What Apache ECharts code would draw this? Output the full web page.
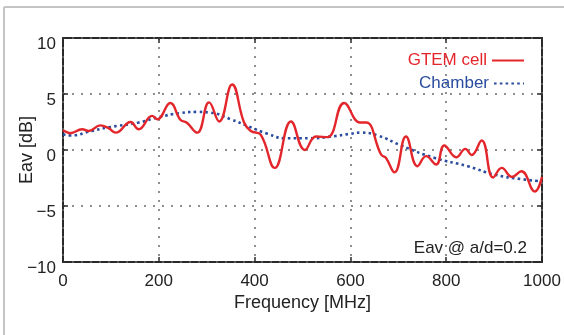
<!DOCTYPE html>
<html>
<head>
<meta charset="utf-8">
<script src="https://cdn.jsdelivr.net/npm/echarts@6/dist/echarts.min.js"></script>
<style>html,body{margin:0;padding:0;background:#fff}#c{width:564px;height:335px}</style>
</head>
<body>
<div id="c"></div>
<script>
var gtemFreq = [0,8,15,40,54,78,95,110,141,158,186,197,224,245,258,280,305,326,353,378,392,413,442,476,505,528,552,587,620,633,664,674,692,716,740,758,779,796,821,840,853,874,898,916,937,957,985,1000];
var gtemDb   = [1.75,1.6,1.5,1.85,1.7,2.2,1.95,1.55,2.5,1.85,3.05,2.75,4.2,2.7,2.45,1.55,4.25,2.55,5.85,2.45,1.7,1.35,-1.6,2.55,0.0,1.2,1.15,4.2,2.45,2.45,-0.4,-0.7,-2.0,1.2,-1.45,-0.55,-1.3,0.4,-0.65,0.1,-0.45,0.85,-2.45,-1.6,-2.4,-1.9,-3.7,-2.4];
var chamFreq = [0,15,60,92,158,197,245,280,305,350,385,427,465,514,560,600,622,657,706,775,845,901,957,1000];
var chamDb   = [1.4,1.3,1.7,2.0,2.45,2.9,3.3,3.4,3.35,2.75,2.15,1.45,1.05,1.05,1.2,1.45,1.55,1.3,0.4,-0.7,-1.45,-2.2,-2.6,-2.8];
var xTicks = [0,200,400,600,800,1000];
var yTicks = [-10,-5,0,5,10];
var seriesNames = ['GTEM cell','Chamber'];
var annotation = 'Eav @ a/d=0.2';

function pairs(xs, ys){ return xs.map(function(x,i){ return [x, ys[i]]; }); }
var RED = '#e3262b', BLUE = '#2a4c9e';
var FONT = '"Liberation Sans", Arial, Helvetica, sans-serif';
var chart = echarts.init(document.getElementById('c'), null, {renderer:'canvas'});
var gridLine = {show:true, lineStyle:{color:'#6a6a6a', type:[2,7], width:1.5}};
var tick = {show:true, inside:true, length:5, lineStyle:{color:'#2a2a2a', width:1.5}};
chart.setOption({
  animation:false,
  backgroundColor:'#fff',
  textStyle:{fontFamily:FONT},
  grid:{left:63, right:22, top:38, bottom:73, containLabel:false, outerBoundsMode:'none',
        show:true, borderColor:'#2a2a2a', borderWidth:2, backgroundColor:'transparent'},
  legend:[
    {data:[{name:seriesNames[0], textStyle:{color:RED}}], orient:'vertical', align:'right', right:34, top:47,
     itemWidth:32, itemHeight:14, itemStyle:{opacity:0}, textStyle:{fontSize:17, fontFamily:FONT}, selectedMode:false},
    {data:[{name:seriesNames[1], textStyle:{color:BLUE}}], orient:'vertical', align:'right', right:34, top:70,
     itemWidth:30, itemHeight:14, itemStyle:{opacity:0}, textStyle:{fontSize:17, fontFamily:FONT}, selectedMode:false}
  ],
  xAxis:[{
    type:'value', min:xTicks[0], max:xTicks[xTicks.length-1], interval:200, position:'bottom',
    name:'Frequency [MHz]', nameLocation:'middle', nameGap:32, nameMoveOverlap:false,
    nameTextStyle:{fontSize:18, color:'#222', fontFamily:FONT},
    axisLine:{show:false, onZero:false},
    axisTick:tick,
    axisLabel:{fontSize:17, color:'#222', margin:11, fontFamily:FONT, formatter:function(v){ return String(v); }},
    splitLine:gridLine
  },{
    type:'value', position:'top', min:0, max:1000, interval:200,
    axisLine:{show:false, onZero:false}, axisLabel:{show:false}, splitLine:{show:false},
    axisTick:tick
  }],
  yAxis:[{
    type:'value', min:yTicks[0], max:yTicks[yTicks.length-1], interval:5, position:'left',
    name:'Eav [dB]', nameLocation:'middle', nameGap:27, nameRotate:90, nameMoveOverlap:false,
    nameTextStyle:{fontSize:18, color:'#222', fontFamily:FONT},
    axisLine:{show:false, onZero:false},
    axisTick:tick,
    axisLabel:{fontSize:17, color:'#222', margin:7, verticalAlign:'top', lineHeight:13, fontFamily:FONT,
      formatter:function(v){ return String(v).replace('-', '\u2212'); }},
    splitLine:gridLine
  },{
    type:'value', position:'right', min:-10, max:10, interval:5,
    axisLine:{show:false, onZero:false}, axisLabel:{show:false}, splitLine:{show:false},
    axisTick:tick
  }],
  series:[
    {name:seriesNames[1], type:'line', data:pairs(chamFreq, chamDb), smooth:0.5, symbol:'none',
     lineStyle:{color:BLUE, width:2.6, type:[2.6,3.2]}, itemStyle:{color:BLUE}, z:3},
    {name:seriesNames[0], type:'line', data:pairs(gtemFreq, gtemDb), smooth:0.45, symbol:'none',
     lineStyle:{color:RED, width:2.4}, itemStyle:{color:RED}, z:4}
  ],
  graphic:[
    {type:'line', shape:{x1:4, y1:7, x2:564, y2:7}, style:{stroke:'#c4c4c4', lineWidth:2}, silent:true},
    {type:'line', shape:{x1:4, y1:7, x2:4, y2:335}, style:{stroke:'#c4c4c4', lineWidth:2}, silent:true},
    {type:'text', x:527, y:248, style:{text:annotation, fill:'#222', fontSize:17, fontFamily:FONT, textAlign:'right', textVerticalAlign:'middle'}, silent:true}
  ]
});
</script>
</body>
</html>
